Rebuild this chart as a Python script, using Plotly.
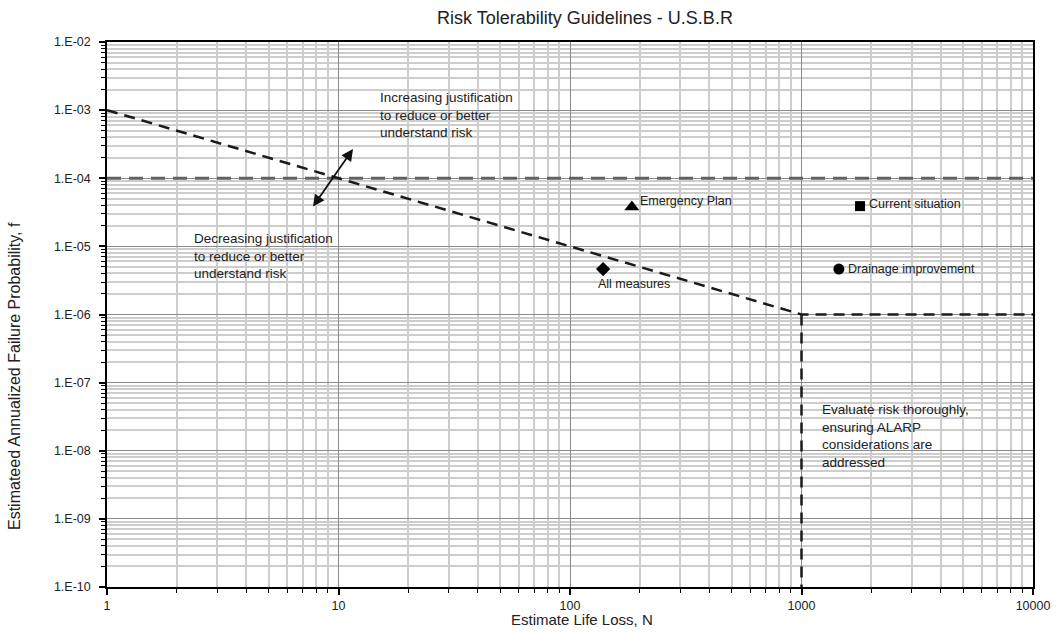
import math
import plotly.graph_objects as go

# ---- data ----
limit_N = [1, 1000, 10000]
limit_f = [1e-3, 1e-6, 1e-6]
alarp_N = [1000, 1000]
alarp_f = [1e-6, 1e-10]
guide_N = [1, 10000]
guide_f = [1e-4, 1e-4]

point_names = ["Emergency Plan", "Current situation", "All measures", "Drainage improvement"]
point_N = [185, 1790, 139, 1450]
point_f = [3.8e-5, 3.9e-5, 4.65e-6, 4.65e-6]
point_symbols = ["triangle-up", "square", "diamond", "circle"]
point_sizes = [13, 10, 11, 11]

y_tickvals = [1e-2, 1e-3, 1e-4, 1e-5, 1e-6, 1e-7, 1e-8, 1e-9, 1e-10]
y_ticktext = ["1.E-02", "1.E-03", "1.E-04", "1.E-05", "1.E-06", "1.E-07", "1.E-08", "1.E-09", "1.E-10"]
x_tickvals = [1, 10, 100, 1000, 10000]
x_ticktext = ["1", "10", "100", "1000", "10000"]

x_minor = [k * 10 ** e for e in range(0, 4) for k in range(2, 10)]
y_minor = [k * 10.0 ** e for e in range(-10, -2) for k in range(2, 10)]

FONT = "Liberation Sans, Arial, sans-serif"
TXT = "#222222"

fig = go.Figure()

fig.add_trace(go.Scatter(x=guide_N, y=guide_f, mode="lines",
                         line=dict(color="#606060", width=3, dash="14px,8px"),
                         showlegend=False, hoverinfo="skip"))
fig.add_trace(go.Scatter(x=limit_N, y=limit_f, mode="lines",
                         line=dict(color="#1a1a1a", width=2.5, dash="11px,7px"),
                         showlegend=False, hoverinfo="skip"))
fig.add_trace(go.Scatter(x=alarp_N, y=alarp_f, mode="lines",
                         line=dict(color="#1a1a1a", width=2.5, dash="11px,7px"),
                         showlegend=False, hoverinfo="skip"))

fig.add_trace(go.Scatter(x=point_N, y=point_f, mode="markers",
                         marker=dict(symbol=point_symbols, color="black", size=point_sizes,
                                     opacity=1, line=dict(width=0)),
                         showlegend=False, cliponaxis=False))

label_offsets = [  # (xanchor, xshift, yshift)
    ("left", 6, 6),
    ("left", 7, 2),
    ("left", -7, -15),
    ("left", 7, 0),
]
for name, n, f, (xa, xs, ys) in zip(point_names, point_N, point_f, label_offsets):
    fig.add_annotation(x=math.log10(n), y=math.log10(f), xref="x", yref="y",
                       text=name, showarrow=False, xanchor=xa, yanchor="middle",
                       xshift=xs, yshift=ys,
                       font=dict(family=FONT, size=12.5, color=TXT))

# double-headed arrow at (10, 1e-4)
fig.add_annotation(x=1.0626, y=-3.571, ax=0.8855, ay=-4.438,
                   xref="x", yref="y", axref="x", ayref="y",
                   text="", showarrow=True, arrowhead=2, startarrowhead=2,
                   arrowside="end+start", arrowsize=1.3, startarrowsize=1.3,
                   arrowwidth=1.8, arrowcolor="#111111")

text_blocks = [
    ("Increasing justification<br>to reduce or better<br>understand risk", 1.1706, -2.68),
    ("Decreasing justification<br>to reduce or better<br>understand risk", 0.367, -4.745),
    ("Evaluate risk thoroughly,<br>ensuring ALARP<br>considerations are<br>addressed", 3.080, -7.25),
]
for txt, lx, ly in text_blocks:
    fig.add_annotation(x=lx, y=ly, xref="x", yref="y", showarrow=False, text=txt,
                       align="left", xanchor="left", yanchor="top",
                       font=dict(family=FONT, size=13.5, color=TXT))

# axis titles (plot area: x 107..1033, y 42..587 px)
fig.add_annotation(x=(582 - 107) / 926, y=-(619 - 587) / 545, xref="x domain", yref="y domain",
                   xanchor="center", yanchor="middle", showarrow=False,
                   text="Estimate Life Loss, N", font=dict(family=FONT, size=15, color=TXT))
fig.add_annotation(x=-(107 - 15) / 926, y=(587 - 376) / 545, xref="x domain", yref="y domain",
                   xanchor="center", yanchor="middle", showarrow=False, textangle=-90,
                   text="Estimateed Annualized Failure Probability, f",
                   font=dict(family=FONT, size=16, color=TXT))

axis_common = dict(
    type="log", showline=True, linecolor="black", linewidth=1.5, mirror=True,
    ticks="outside", ticklen=6, tickcolor="black", tickwidth=1.5,
    showgrid=True, gridcolor="#8a8a8a", gridwidth=1, zeroline=False, automargin=False,
    tickfont=dict(family=FONT, size=12.5, color=TXT),
)

fig.update_xaxes(**axis_common, range=[0, 4], tickvals=x_tickvals, ticktext=x_ticktext,
                 minor=dict(tickmode="array", tickvals=x_minor, ticks="outside", ticklen=4,
                            tickcolor="black", tickwidth=1.2, showgrid=True,
                            gridcolor="#cdcdcd", gridwidth=1.5))
fig.update_yaxes(**axis_common, range=[-10, -2], tickvals=y_tickvals, ticktext=y_ticktext,
                 ticklabelstandoff=6,
                 minor=dict(tickmode="array", tickvals=y_minor, ticks="outside", ticklen=4,
                            tickcolor="black", tickwidth=1.2, showgrid=True,
                            gridcolor="#cdcdcd", gridwidth=1.5))

fig.update_layout(
    width=1056, height=632,
    margin=dict(l=107, r=23, t=42, b=45),
    paper_bgcolor="white", plot_bgcolor="white",
    title=dict(text="Risk Tolerability Guidelines - U.S.B.R", xref="container", x=585 / 1056,
               xanchor="center", yref="container", y=1 - 18 / 632, yanchor="middle",
               font=dict(family=FONT, size=18, color=TXT)),
)

fig.write_html("out.html", config={"displayModeBar": False},
               post_script="document.body.style.margin='0';document.body.style.overflow='hidden';")
